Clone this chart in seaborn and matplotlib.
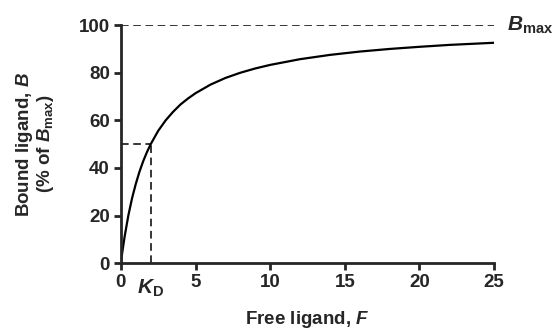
import matplotlib
matplotlib.use("Agg")
import matplotlib.pyplot as plt
import seaborn as sns
import pandas as pd

# Values
free_ligand = [0, 0.1, 0.25, 0.5, 0.75, 1, 1.25, 1.5, 1.75, 2, 2.5, 3, 3.5, 4, 4.5, 5, 6, 7,
               8, 9, 10, 12, 14, 16, 18, 20, 22, 25]
bound_pct = [0, 4.8, 11.1, 20, 27.3, 33.3, 38.5, 42.9, 46.7, 50, 55.6, 60, 63.6, 66.7, 69.2,
             71.4, 75, 77.8, 80, 81.8, 83.3, 85.7, 87.5, 88.9, 90, 90.9, 91.7, 92.6]
kd = 2
bmax = 100
x_ticks = [0, 5, 10, 15, 20, 25]
y_ticks = [0, 20, 40, 60, 80, 100]

sns.set_style("ticks")
plt.rcParams['font.family'] = ['Liberation Sans', 'DejaVu Sans']
plt.rcParams['font.weight'] = 'bold'
plt.rcParams['mathtext.fontset'] = 'custom'
plt.rcParams['mathtext.rm'] = 'Liberation Sans:bold'
plt.rcParams['mathtext.bf'] = 'Liberation Sans:bold'
plt.rcParams['mathtext.it'] = 'Liberation Sans:italic:bold'

data = pd.DataFrame({'F': free_ligand, 'B': bound_pct})

fig = plt.figure(figsize=(5.57, 3.31), dpi=100)
ax = fig.add_axes([0.217, 0.205, 0.670, 0.719])

sns.lineplot(data=data, x='F', y='B', ax=ax, color='black', linewidth=1.6)

# dashed guides
dash = dict(color='black', linewidth=1.1, linestyle=(0, (5, 3)))
ax.plot([0, 25], [bmax, bmax], **dash)
ax.plot([0, kd], [bmax / 2, bmax / 2], **dash)
ax.plot([kd, kd], [0, bmax / 2], **dash)

ax.set_xlim(0, 25)
ax.set_ylim(0, 100)
ax.set_xticks(x_ticks)
ax.set_yticks(y_ticks)
ax.tick_params(labelsize=13.5, width=2, length=5, pad=3)
for lab in ax.get_xticklabels() + ax.get_yticklabels():
    lab.set_fontweight('bold')

sns.despine(ax=ax)
for s in ['left', 'bottom']:
    ax.spines[s].set_linewidth(2)

ax.set_xlabel('Free ligand, $F$', fontsize=13.5, fontweight='bold', labelpad=13)
ax.set_ylabel('Bound ligand, $B$\n(% of $B_{\\mathrm{max}}$)', fontsize=13.5,
              fontweight='bold', labelpad=16, linespacing=1.0)

ax.text(kd, -6, '$K_{\\mathrm{D}}$', ha='center', va='top', fontsize=15,
        clip_on=False)
ax.text(25.9, bmax, '$B_{\\mathrm{max}}$', ha='left', va='center', fontsize=15,
        clip_on=False)

fig.savefig('out.png', dpi=100)
